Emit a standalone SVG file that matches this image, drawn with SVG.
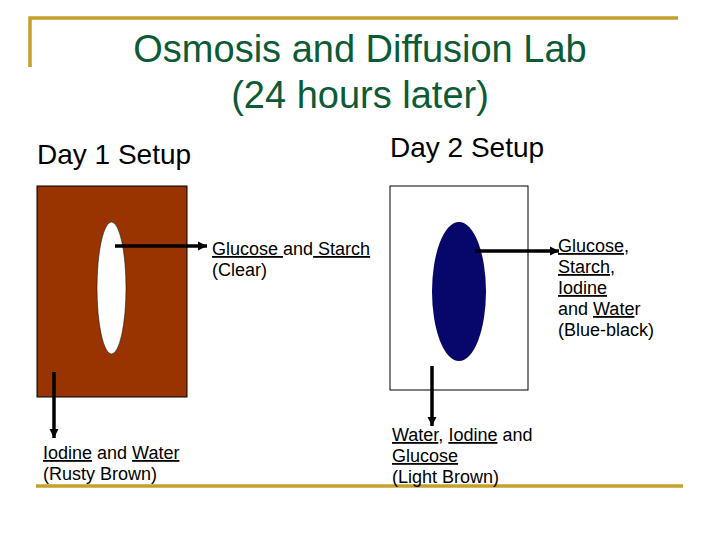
<svg xmlns="http://www.w3.org/2000/svg" width="720" height="540" viewBox="0 0 720 540">
<style>
.gold{stroke:#c4a02c;stroke-width:3.5;fill:none}
.title{font-family:"Liberation Sans",Arial,sans-serif;font-size:38px;fill:#0d5a36;text-anchor:middle}
.head{font-family:"Liberation Sans",Arial,sans-serif;font-size:28px;fill:#000}
.lbl{font-family:"Liberation Sans",Arial,sans-serif;font-size:18px;fill:#000}
.u{text-decoration:underline}
.conn{stroke:#000;stroke-width:3.5;fill:none;marker-end:url(#ah)}
</style>
<defs>
<marker id="ah" viewBox="0 0 10 10" refX="10" refY="5" markerWidth="2.6" markerHeight="2.6" markerUnits="strokeWidth" orient="auto">
<path d="M0,0 L10,5 L0,10 Z" fill="#000"/>
</marker>
</defs>
<rect width="720" height="540" fill="#fff"/>
<g id="frame">
<path class="gold" d="M30,67 V18 H678"/>
<path class="gold" d="M36,486 H683"/>
</g>
<g id="title">
<text class="title" x="360" y="62">Osmosis and Diffusion Lab</text>
<text class="title" x="360" y="108">(24 hours later)</text>
</g>
<g id="day1-heading"><text class="head" x="37" y="164">Day 1 Setup</text></g>
<g id="day2-heading"><text class="head" x="390" y="157">Day 2 Setup</text></g>
<g id="day1-beaker">
<rect x="37" y="186" width="150" height="211" fill="#993300" stroke="#000" stroke-width="1"/>
<ellipse cx="111.5" cy="288" rx="14.5" ry="66" fill="#fff" stroke="#000" stroke-width="0.5"/>
</g>
<g id="day2-beaker">
<rect x="390" y="186" width="138" height="204" fill="#fff" stroke="#000" stroke-width="1"/>
<ellipse cx="459" cy="291.5" rx="27" ry="69.5" fill="#06066b"/>
</g>
<g id="connectors">
<line class="conn" x1="115" y1="246" x2="207" y2="246"/>
<line class="conn" x1="475" y1="251" x2="559" y2="251"/>
<line class="conn" x1="54" y1="372" x2="54" y2="438"/>
<line class="conn" x1="432" y1="366" x2="432" y2="426"/>
</g>
<g id="label-day1-inside">
<text class="lbl" x="212" y="255"><tspan class="u">Glucose </tspan>and<tspan class="u"> Starch</tspan></text>
<text class="lbl" x="212" y="276">(Clear)</text>
</g>
<g id="label-day1-outside">
<text class="lbl" x="43" y="459"><tspan class="u">Iodine</tspan> and <tspan class="u">Water</tspan></text>
<text class="lbl" x="43" y="480">(Rusty Brown)</text>
</g>
<g id="label-day2-inside">
<text class="lbl" x="558" y="252"><tspan class="u">Glucose</tspan>,</text>
<text class="lbl" x="558" y="273"><tspan class="u">Starch</tspan>,</text>
<text class="lbl" x="558" y="294"><tspan class="u">Iodine</tspan></text>
<text class="lbl" x="558" y="315">and <tspan class="u">Wate</tspan>r</text>
<text class="lbl" x="558" y="336">(Blue-black)</text>
</g>
<g id="label-day2-outside">
<text class="lbl" x="392" y="441"><tspan class="u">Water</tspan>, <tspan class="u">Iodine</tspan> and</text>
<text class="lbl" x="392" y="462"><tspan class="u">Glucose</tspan></text>
<text class="lbl" x="392" y="483">(Light Brown)</text>
</g>
</svg>
